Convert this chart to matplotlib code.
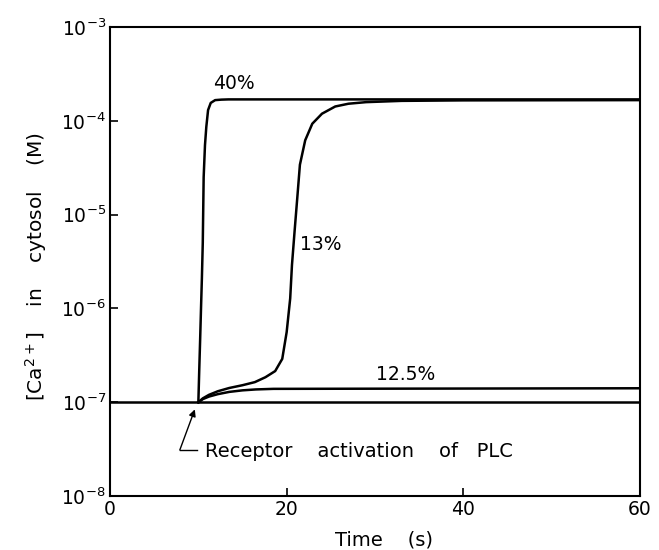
import matplotlib.pyplot as plt
from matplotlib.ticker import FixedLocator, NullLocator

plt.rcParams['font.family'] = ['DejaVu Sans']
plt.rcParams['mathtext.fontset'] = 'dejavusans'

# resting level (flat line)
base_t = [0, 60]
base_ca = [1e-7, 1e-7]

# 40 % curve
t_40 = [10.0, 10.1, 10.2, 10.3, 10.4, 10.5, 10.6, 10.75, 10.9, 11.1, 11.4, 11.9, 12.6, 13.4, 60]
ca_40 = [1e-7, 2.2e-7, 4.6e-7, 1e-6, 2.1e-6, 5e-6, 2.5e-5, 5.5e-5, 8.6e-5, 1.3e-4, 1.55e-4,
         1.66e-4, 1.68e-4, 1.69e-4, 1.69e-4]

# 13 % curve
t_13 = [10.0, 10.5, 11.2, 12.2, 13.5, 15.0, 16.4, 17.6, 18.7, 19.5, 20.0, 20.4, 20.6, 20.9,
        21.2, 21.5, 22.1, 22.9, 24.0, 25.5, 27.0, 29.0, 33.0, 40.0, 60.0]
ca_13 = [1e-7, 1.1e-7, 1.2e-7, 1.31e-7, 1.42e-7, 1.52e-7, 1.64e-7, 1.85e-7, 2.15e-7, 2.9e-7,
         5.6e-7, 1.28e-6, 2.9e-6, 6.7e-6, 1.5e-5, 3.4e-5, 6.2e-5, 9.3e-5, 1.19e-4, 1.42e-4,
         1.52e-4, 1.58e-4, 1.63e-4, 1.65e-4, 1.66e-4]

# 12.5 % curve
t_125 = [10.0, 10.5, 11.2, 12.2, 13.5, 15.0, 16.5, 18.5, 60.0]
ca_125 = [1e-7, 1.08e-7, 1.15e-7, 1.22e-7, 1.29e-7, 1.34e-7, 1.37e-7, 1.39e-7, 1.41e-7]

x_ticks = [0, 20, 40, 60]
y_ticks = [1e-8, 1e-7, 1e-6, 1e-5, 1e-4, 1e-3]
y_tick_labels = ['$10^{-8}$', '$10^{-7}$', '$10^{-6}$', '$10^{-5}$', '$10^{-4}$', '$10^{-3}$']

fig = plt.figure(figsize=(6.59, 5.5), dpi=100)
ax = fig.add_axes([0.167, 0.098, 0.804, 0.853])

lw = 1.8
ax.plot(base_t, base_ca, color='black', lw=lw)
ax.plot(t_125, ca_125, color='black', lw=lw)
ax.plot(t_13, ca_13, color='black', lw=lw)
ax.plot(t_40, ca_40, color='black', lw=lw)

ax.set_yscale('log')
ax.set_xlim(0, 60)
ax.set_ylim(1e-8, 1e-3)
ax.xaxis.set_major_locator(FixedLocator(x_ticks))
ax.yaxis.set_major_locator(FixedLocator(y_ticks))
ax.yaxis.set_minor_locator(NullLocator())
ax.set_yticklabels(y_tick_labels)
ax.tick_params(direction='in', length=6, width=1.2, labelsize=13.5)
ax.tick_params(axis='x', pad=3)
ax.tick_params(axis='y', pad=3)
for s in ax.spines.values():
    s.set_linewidth(1.5)

ax.set_xlabel('Time    (s)', fontsize=14, labelpad=8)
ax.xaxis.label.set_x(0.517)
ax.set_ylabel(r'[Ca$^{2+}$]    in    cytosol    (M)', fontsize=14.5, labelpad=9)
ax.yaxis.label.set_y(0.49)

# curve labels
ax.text(14.0, 2.5e-4, '40%', fontsize=13.5, ha='center', va='center')
ax.text(21.5, 4.75e-6, '13%', fontsize=13.5, ha='left', va='center')
ax.text(33.5, 2.0e-7, '12.5%', fontsize=13.5, ha='center', va='center')

# stimulus annotation
ax.annotate('', xy=(9.6, 8.4e-8), xytext=(7.9, 3.1e-8),
            arrowprops=dict(arrowstyle='-|>', color='black', lw=1.0,
                            mutation_scale=10, shrinkA=0, shrinkB=0))
ax.plot([7.9, 9.8], [3.1e-8, 3.1e-8], color='black', lw=1.0)
ax.text(10.75, 3.0e-8, 'Receptor    activation    of   PLC', fontsize=14, ha='left', va='center')

fig.savefig('out.png', dpi=100)
